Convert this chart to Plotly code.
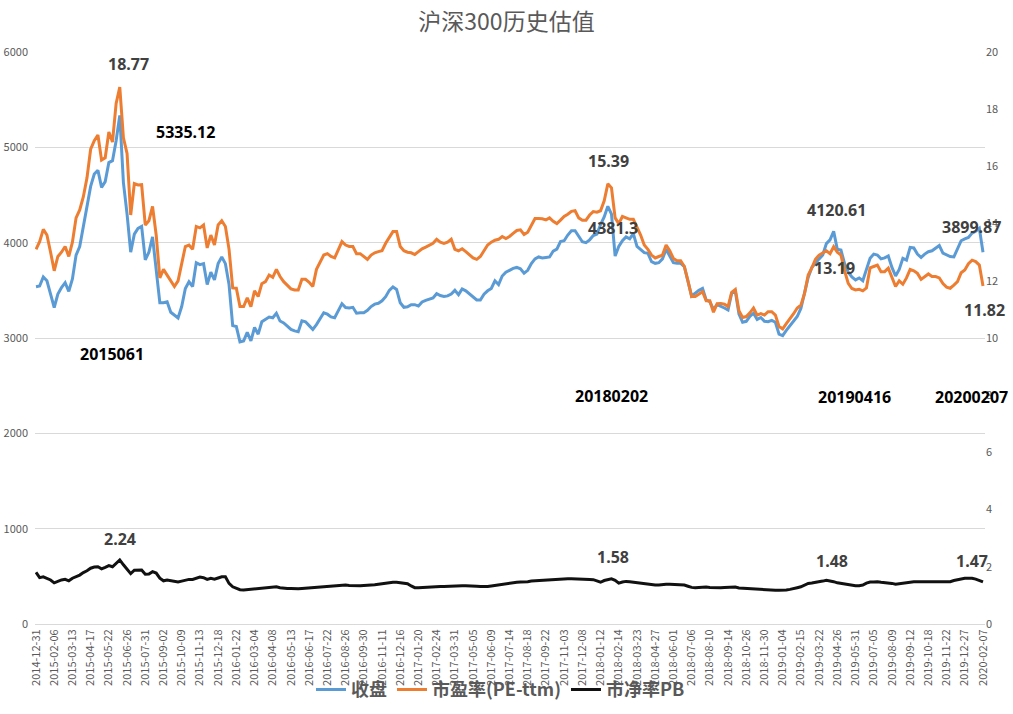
import plotly.graph_objects as go

# ---------------- data (weekly) ----------------
tick_labels = [
    "2014-12-31", "2015-02-06", "2015-03-13", "2015-04-17", "2015-05-22", "2015-06-26",
    "2015-07-31", "2015-09-02", "2015-10-09", "2015-11-13", "2015-12-18", "2016-01-22",
    "2016-03-04", "2016-04-08", "2016-05-13", "2016-06-17", "2016-07-22", "2016-08-26",
    "2016-09-30", "2016-11-11", "2016-12-16", "2017-01-20", "2017-02-24", "2017-03-31",
    "2017-05-05", "2017-06-09", "2017-07-14", "2017-08-18", "2017-09-22", "2017-11-03",
    "2017-12-08", "2018-01-12", "2018-02-14", "2018-03-23", "2018-04-27", "2018-06-01",
    "2018-07-06", "2018-08-10", "2018-09-14", "2018-10-26", "2018-11-30", "2019-01-04",
    "2019-02-15", "2019-03-22", "2019-04-26", "2019-05-31", "2019-07-05", "2019-08-09",
    "2019-09-12", "2019-10-18", "2019-11-22", "2019-12-27", "2020-02-07",
]

close = [
    3538, 3545, 3640, 3600, 3460, 3320, 3460, 3530, 3580, 3490,
    3620, 3870, 3960, 4168, 4350, 4590, 4720, 4760, 4580, 4640,
    4840, 4860, 5070, 5335, 4630, 4300, 3900, 4090, 4150, 4170,
    3820, 3900, 4060, 3740, 3370, 3370, 3380, 3270, 3240, 3210,
    3330, 3520, 3590, 3540, 3790, 3770, 3780, 3560, 3690, 3610,
    3780, 3850, 3780, 3560, 3130, 3120, 2960, 2970, 3060, 2970,
    3110, 3040, 3170, 3200, 3220, 3212, 3260, 3178, 3158, 3125,
    3090, 3075, 3066, 3180, 3170, 3130, 3090, 3140, 3200, 3265,
    3250, 3222, 3212, 3290, 3360, 3320, 3315, 3322, 3260, 3265,
    3265, 3290, 3330, 3355, 3364, 3390, 3434, 3500, 3535, 3510,
    3370, 3322, 3328, 3350, 3350, 3335, 3378, 3395, 3405, 3420,
    3465, 3445, 3436, 3442, 3462, 3500, 3455, 3515, 3495, 3462,
    3430, 3399, 3399, 3460, 3495, 3520, 3600, 3560, 3650, 3690,
    3710, 3730, 3740, 3725, 3680, 3710, 3780, 3830, 3850, 3840,
    3845, 3850, 3912, 3932, 4012, 4020, 4080, 4125, 4125, 4060,
    4010, 4000, 4030, 4075, 4090, 4190, 4270, 4381, 4300, 3860,
    3960, 4020, 4060, 4040, 4095, 3960, 3925, 3895, 3888, 3800,
    3783, 3790, 3830, 3930, 3860, 3790, 3783, 3783, 3750, 3600,
    3440, 3470, 3500, 3520, 3400, 3380, 3300, 3350, 3335, 3315,
    3294, 3470, 3490, 3250, 3165, 3175, 3228, 3260, 3195, 3215,
    3175, 3171, 3185, 3165, 3040, 3025, 3080, 3130, 3178, 3225,
    3310, 3460, 3635, 3740, 3790, 3830, 3870, 3990, 4030, 4120,
    3930, 3923, 3780, 3690, 3640, 3610, 3630, 3600, 3720, 3836,
    3880, 3870, 3830, 3840, 3860, 3740, 3650, 3720, 3836, 3818,
    3950, 3945, 3880, 3845, 3880, 3905, 3915, 3945, 3970, 3890,
    3875, 3855, 3850, 3935, 4020, 4040, 4055, 4100, 4120, 4150,
    3900,
]

pe_ttm = [
    13.10, 13.37, 13.80, 13.60, 13.00, 12.35, 12.85, 13.00, 13.20, 12.85,
    13.35, 14.20, 14.48, 14.94, 15.60, 16.60, 16.90, 17.10, 16.22, 16.30,
    17.20, 16.85, 18.20, 18.77, 17.00, 16.45, 14.30, 15.40, 15.35, 15.36,
    13.95, 14.10, 14.60, 13.60, 12.10, 12.40, 12.20, 12.00, 11.80, 12.00,
    12.60, 13.20, 13.25, 13.10, 13.90, 13.85, 13.95, 13.15, 13.60, 13.25,
    13.95, 14.10, 13.90, 13.10, 11.75, 11.74, 11.10, 11.10, 11.40, 11.10,
    11.65, 11.45, 11.90, 11.97, 12.20, 12.12, 12.40, 12.15, 11.97, 11.85,
    11.72, 11.68, 11.68, 12.05, 12.05, 11.95, 11.80, 12.40, 12.65, 12.90,
    12.95, 12.85, 12.80, 13.10, 13.37, 13.25, 13.20, 13.20, 12.95, 12.95,
    12.85, 12.75, 12.90, 12.98, 13.02, 13.05, 13.31, 13.50, 13.72, 13.72,
    13.20, 13.05, 13.00, 12.98, 12.92, 13.02, 13.12, 13.18, 13.25, 13.31,
    13.45, 13.35, 13.31, 13.35, 13.45, 13.10, 13.05, 13.12, 13.02, 12.92,
    12.80, 12.75, 12.85, 13.05, 13.25, 13.35, 13.42, 13.45, 13.55, 13.48,
    13.55, 13.66, 13.76, 13.78, 13.62, 13.70, 13.95, 14.18, 14.18, 14.17,
    14.13, 14.20, 14.08, 14.00, 14.12, 14.25, 14.33, 14.43, 14.45, 14.20,
    14.12, 14.12, 14.30, 14.42, 14.40, 14.45, 14.80, 15.39, 15.25, 14.20,
    14.00, 14.25, 14.20, 14.15, 14.15, 13.90, 13.60, 13.25, 13.10, 12.90,
    12.80, 12.85, 12.90, 13.25, 13.05, 12.78, 12.70, 12.70, 12.50, 12.00,
    11.45, 11.45, 11.54, 11.62, 11.30, 11.30, 10.90, 11.20, 11.21, 11.18,
    11.10, 11.60, 11.70, 10.95, 10.72, 10.75, 10.88, 11.05, 10.80, 10.85,
    10.80, 10.92, 10.92, 10.80, 10.40, 10.32, 10.50, 10.66, 10.85, 11.05,
    11.15, 11.55, 12.20, 12.45, 12.75, 12.90, 12.98, 13.05, 12.95, 13.19,
    13.00, 12.90, 12.35, 11.91, 11.73, 11.68, 11.70, 11.65, 11.75, 12.45,
    12.50, 12.55, 12.32, 12.32, 12.44, 12.15, 11.80, 12.00, 11.88, 12.10,
    12.40, 12.35, 12.26, 12.05, 12.15, 12.24, 12.15, 12.15, 12.10, 11.90,
    11.78, 11.74, 11.85, 11.97, 12.28, 12.38, 12.60, 12.72, 12.67, 12.55,
    11.82,
]

pb = [
    1.81, 1.62, 1.65, 1.60, 1.54, 1.44, 1.50, 1.54, 1.56, 1.51,
    1.60, 1.66, 1.71, 1.80, 1.86, 1.95, 1.99, 2.00, 1.93, 1.98,
    2.04, 2.00, 2.11, 2.24, 2.07, 1.91, 1.76, 1.88, 1.89, 1.89,
    1.74, 1.75, 1.83, 1.78, 1.60, 1.51, 1.54, 1.52, 1.50, 1.47,
    1.50, 1.54, 1.56, 1.56, 1.60, 1.64, 1.62, 1.56, 1.60, 1.57,
    1.61, 1.65, 1.65, 1.42, 1.30, 1.25, 1.20, 1.19, 1.20, 1.21,
    1.23, 1.25, 1.26, 1.26, 1.28, 1.29, 1.30, 1.27, 1.25, 1.24,
    1.24, 1.23, 1.23, 1.24, 1.25, 1.25, 1.26, 1.27, 1.28, 1.30,
    1.31, 1.32, 1.34, 1.34, 1.36, 1.36, 1.35, 1.34, 1.34, 1.34,
    1.35, 1.35, 1.36, 1.37, 1.39, 1.41, 1.43, 1.45, 1.46, 1.46,
    1.45, 1.43, 1.41, 1.33, 1.27, 1.27, 1.28, 1.28, 1.29, 1.29,
    1.30, 1.31, 1.31, 1.32, 1.33, 1.33, 1.34, 1.34, 1.34, 1.34,
    1.33, 1.32, 1.31, 1.30, 1.31, 1.33, 1.35, 1.38, 1.40, 1.42,
    1.44, 1.45, 1.46, 1.47, 1.47, 1.48, 1.50, 1.51, 1.52, 1.53,
    1.54, 1.54, 1.55, 1.56, 1.57, 1.57, 1.58, 1.58, 1.58, 1.57,
    1.56, 1.56, 1.56, 1.55, 1.50, 1.46, 1.52, 1.56, 1.58, 1.53,
    1.43, 1.47, 1.49, 1.48, 1.46, 1.45, 1.43, 1.42, 1.40, 1.38,
    1.36, 1.36, 1.38, 1.39, 1.39, 1.38, 1.36, 1.36, 1.36, 1.32,
    1.28, 1.27, 1.28, 1.29, 1.29, 1.28, 1.27, 1.27, 1.27, 1.28,
    1.29, 1.30, 1.29, 1.26, 1.25, 1.24, 1.24, 1.23, 1.22, 1.21,
    1.20, 1.19, 1.19, 1.18, 1.18, 1.18, 1.19, 1.21, 1.23, 1.27,
    1.30, 1.37, 1.42, 1.43, 1.45, 1.46, 1.50, 1.53, 1.51, 1.48,
    1.44, 1.42, 1.39, 1.36, 1.34, 1.34, 1.34, 1.36, 1.43, 1.47,
    1.47, 1.48, 1.46, 1.45, 1.44, 1.42, 1.39, 1.41, 1.44, 1.46,
    1.47, 1.48, 1.48, 1.48, 1.48, 1.48, 1.47, 1.47, 1.46, 1.46,
    1.47, 1.48, 1.52, 1.55, 1.58, 1.60, 1.60, 1.60, 1.57, 1.53,
    1.47,
]

series_names = ["收盘", "市盈率(PE-ttm)", "市净率PB"]

# value labels written on the chart: (text, week index, left-axis level, colour)
labels = [
    ("18.77", 25.3, 5875, "#404040"),
    ("5335.12", 41, 5161, "#000000"),
    ("2015061", 20.9, 2832, "#000000"),
    ("15.39", 157.3, 4857, "#404040"),
    ("4381.3", 158.4, 4154, "#404040"),
    ("20180202", 157.9, 2392, "#000000"),
    ("4120.61", 219.7, 4343, "#404040"),
    ("13.19", 219.2, 3734, "#404040"),
    ("20190416", 224.7, 2381, "#000000"),
    ("3899.87", 256.9, 4164, "#404040"),
    ("11.82", 260.5, 3294, "#404040"),
    ("20200207", 256.9, 2381, "#000000"),
    ("2.24", 23.1, 892, "#404040"),
    ("1.58", 158.4, 703, "#404040"),
    ("1.48", 218.6, 661, "#404040"),
    ("1.47", 256.9, 661, "#404040"),
]

# ---------------- figure ----------------
weeks = list(range(len(close)))
tick_positions = weeks[::5]

fig = go.Figure()
fig.add_trace(go.Scatter(x=weeks, y=close, name=series_names[0], mode="lines",
                         line=dict(color="#5B9BD5", width=3), yaxis="y"))
fig.add_trace(go.Scatter(x=weeks, y=pe_ttm, name=series_names[1], mode="lines",
                         line=dict(color="#ED7D31", width=3), yaxis="y2"))
fig.add_trace(go.Scatter(x=weeks, y=pb, name=series_names[2], mode="lines",
                         line=dict(color="#111111", width=3), yaxis="y2"))

tick_font = dict(family="Noto Sans CJK SC, Noto Sans, sans-serif", size=11, color="#595959")

annotations = []
for text, xi, yv, col in labels:
    annotations.append(dict(
        text=text, x=xi, y=yv, xref="x", yref="y", showarrow=False,
        font=dict(family="Noto Sans, sans-serif", size=16, color=col, weight="bold"),
        xanchor="center", yanchor="middle"))

fig.update_layout(
    width=1013, height=714,
    paper_bgcolor="white", plot_bgcolor="white",
    margin=dict(l=35, r=28, t=52, b=90, autoexpand=False),
    title=dict(text="沪深300历史估值", x=0.5, xanchor="center", y=0.969, yanchor="middle",
               font=dict(family="Noto Sans CJK SC, sans-serif", size=23, color="#595959")),
    xaxis=dict(range=[-0.275, 260.55], tickmode="array", tickvals=tick_positions,
               ticktext=tick_labels, tickangle=-90, tickfont=tick_font,
               showgrid=False, zeroline=False, showline=True, linecolor="#D9D9D9",
               linewidth=1, ticks="", automargin=False),
    yaxis=dict(range=[0, 6000], dtick=1000, tickfont=tick_font, showgrid=True,
               gridcolor="#D9D9D9", gridwidth=1, zeroline=False, ticks="",
               tickformat="d", ticklabelstandoff=6, automargin=False),
    yaxis2=dict(range=[0, 20], dtick=2, tickfont=tick_font, overlaying="y", side="right",
                showgrid=False, zeroline=False, ticks="", automargin=False),
    legend=dict(orientation="h", x=0.49, xanchor="center", y=0.034, yanchor="middle",
                yref="container",
                bgcolor="rgba(0,0,0,0)",
                font=dict(family="Noto Sans CJK SC, sans-serif", size=18, color="#595959",
                          weight="bold"),
                itemwidth=30),
    annotations=annotations,
    showlegend=True,
)

fig.write_html("out.html", config={"displayModeBar": False},
               post_script="document.body.style.margin='0';")
